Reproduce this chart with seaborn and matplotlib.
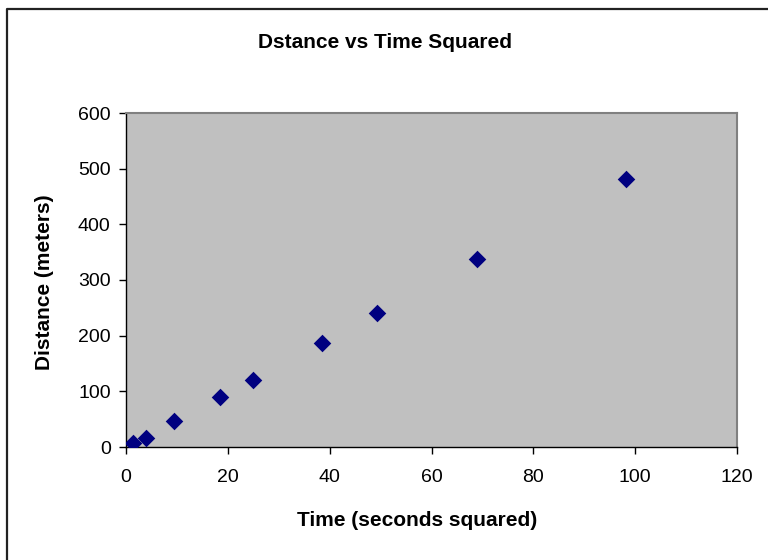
import matplotlib
matplotlib.use("Agg")
import matplotlib.pyplot as plt
import seaborn as sns
import pandas as pd
from matplotlib.lines import Line2D

time_sq = [1.44, 3.94, 9.4, 18.4, 25.0, 38.5, 49.2, 69.0, 98.2]
distance = [7, 17, 46, 89, 121, 186, 240, 337, 481]
x_ticks = [0, 20, 40, 60, 80, 100, 120]
y_ticks = [0, 100, 200, 300, 400, 500, 600]

sns.set_style("white")
plt.rcParams['font.family'] = ['Liberation Sans', 'DejaVu Sans']
plt.rcParams['text.color'] = 'black'
plt.rcParams['axes.labelcolor'] = 'black'
plt.rcParams['xtick.color'] = 'black'
plt.rcParams['ytick.color'] = 'black'

df = pd.DataFrame({"t": time_sq, "d": distance})

fig = plt.figure(figsize=(7.68, 5.6), dpi=100)
W, H = 768, 560
ax = fig.add_axes([126 / W, 1 - 447 / H, (737 - 126) / W, (447 - 113) / H])

# outer chart border (only left and top edges visible in the frame)
fig.lines.append(Line2D([7 / W, 7 / W, 1.0], [0.0, 1 - 9 / H, 1 - 9 / H],
                        transform=fig.transFigure, color='#222222', linewidth=1.6))

ax.set_facecolor('#C0C0C0')
sns.scatterplot(data=df, x="t", y="d", marker="D", s=80, color="#000080",
                edgecolor="#000080", linewidth=0, ax=ax, zorder=3)

ax.set_xlim(0, 120)
ax.set_ylim(0, 600)
ax.set_xticks(x_ticks)
ax.set_yticks(y_ticks)
ax.tick_params(axis='both', direction='out', length=5, width=1, color='black',
               labelsize=14, bottom=True, left=True, labelcolor='black')
ax.tick_params(axis='x', pad=11)
ax.tick_params(axis='y', pad=6)
for s in ['top', 'right']:
    ax.spines[s].set_color('#808080')
    ax.spines[s].set_linewidth(1.5)
for s in ['left', 'bottom']:
    ax.spines[s].set_color('black')
    ax.spines[s].set_linewidth(1)

ax.set_xlabel("")
ax.set_ylabel("")
fig.text(417 / W, 1 - 521 / H, "Time (seconds squared)", ha='center', va='center',
         fontsize=15, fontweight='bold', color='black')
fig.text(45 / W, 1 - 282 / H, "Distance (meters)", ha='center', va='center',
         rotation=90, fontsize=15, fontweight='bold', color='black')
fig.text(385 / W, 1 - 42 / H, "Dstance vs Time Squared",
         ha='center', va='center', fontsize=15, fontweight='bold', color='black')

fig.savefig("out.png", dpi=100)
